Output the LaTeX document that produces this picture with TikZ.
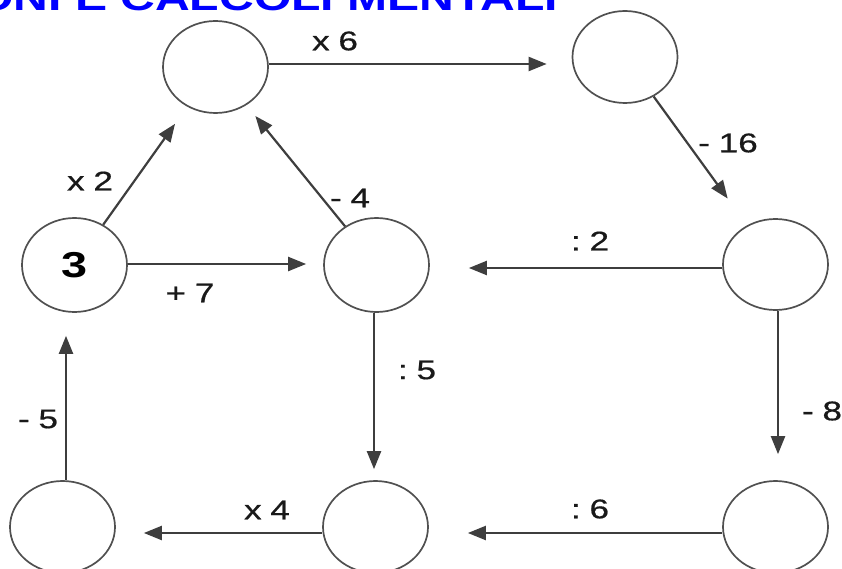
\documentclass[tikz,border=0pt]{standalone}
\usepackage{fontspec}
\setmainfont{Liberation Sans}
\newfontfamily\lblfont[FakeBold=0.6]{Liberation Sans}
\usetikzlibrary{shapes.geometric,arrows.meta}
\definecolor{titleblue}{RGB}{0,0,255}
\definecolor{ringgray}{RGB}{80,80,80}
\definecolor{arrowgray}{RGB}{62,62,62}
\newcommand{\stretchtxt}[1]{\scalebox{1.3}[1]{#1}}
\newcommand{\opsp}{\hspace{0.25em}}
\begin{document}
\begin{tikzpicture}[x=1pt,y=-1pt,
  ring/.style={ellipse, draw=ringgray, line width=1.7pt, minimum width=105pt, minimum height=92pt, inner sep=0pt},
  conn/.style={draw=arrowgray, line width=2.2pt, -{Triangle[length=18pt,width=14pt]}},
  lbl/.style={font=\lblfont\fontsize{27}{27}\selectfont, inner sep=0pt, text=black!90},
]
\useasboundingbox (0,0) rectangle (842,569);
\clip (0,0) rectangle (842,569);

\node[anchor=base west, inner sep=0pt, text=titleblue, font=\fontsize{37}{37}\selectfont\bfseries] (title) at (-24,11) {\stretchtxt{ONI E CALCOLI MENTALI}};

\node[ring] (A) at (215.5,67) {};
\node[ring] (B) at (625,57) {};
\node[ring, minimum height=94pt] (C) at (74.5,265) {\fontsize{36}{36}\selectfont\bfseries\stretchtxt{3}};
\node[ring, minimum height=94pt] (D) at (376.5,265) {};
\node[ring, minimum height=91pt] (E) at (775.5,264.5) {};
\node[ring] (F) at (62.5,527) {};
\node[ring] (G) at (375.5,527) {};
\node[ring] (H) at (775.5,527) {};

\draw[conn, shorten >=25pt] ([yshift=3pt]A.east) -- ([yshift=-7pt]B.west);
\draw[conn, shorten >=21pt] (C) -- (A);
\draw[conn, shorten >=14pt] (D) -- (A);
\draw[conn, shorten >=33pt] (B) -- (E);
\draw[conn, shorten >=39pt] ([yshift=-3.5pt]E.west) -- ([yshift=-3pt]D.east);
\draw[conn, shorten >=17pt] ([yshift=1pt]C.east) -- ([yshift=1pt]D.west);
\draw[conn, shorten >=11pt] ([xshift=-2.5pt]D.south) -- ([xshift=-1.5pt]G.north);
\draw[conn, shorten >=26pt] ([xshift=2.5pt]E.south) -- ([xshift=2.5pt]H.north);
\draw[conn, shorten >=39pt] ([yshift=-6pt]H.west) -- ([yshift=-6pt]G.east);
\draw[conn, shorten >=28pt] ([yshift=-6pt]G.west) -- ([yshift=-6pt]F.east);
\draw[conn, shorten >=23pt] ([xshift=3.5pt]F.north) -- ([xshift=-8.5pt]C.south);

\node[lbl] (l1) at (335,41) {\stretchtxt{x\opsp6}};
\node[lbl] (l2) at (728,143) {\stretchtxt{-\opsp16}};
\node[lbl] (l3) at (90,181) {\stretchtxt{x\opsp2}};
\node[lbl] (l4) at (350,198) {\stretchtxt{-\opsp4}};
\node[lbl] (l5) at (590,241) {\stretchtxt{:\opsp2}};
\node[lbl] (l6) at (190,293) {\stretchtxt{+\opsp7}};
\node[lbl] (l7) at (417,370) {\stretchtxt{:\opsp5}};
\node[lbl] (l8) at (38,419) {\stretchtxt{-\opsp5}};
\node[lbl] (l9) at (822,411) {\stretchtxt{-\opsp8}};
\node[lbl] (l10) at (267,510) {\stretchtxt{x\opsp4}};
\node[lbl] (l11) at (590,509) {\stretchtxt{:\opsp6}};
\end{tikzpicture}
\end{document}
